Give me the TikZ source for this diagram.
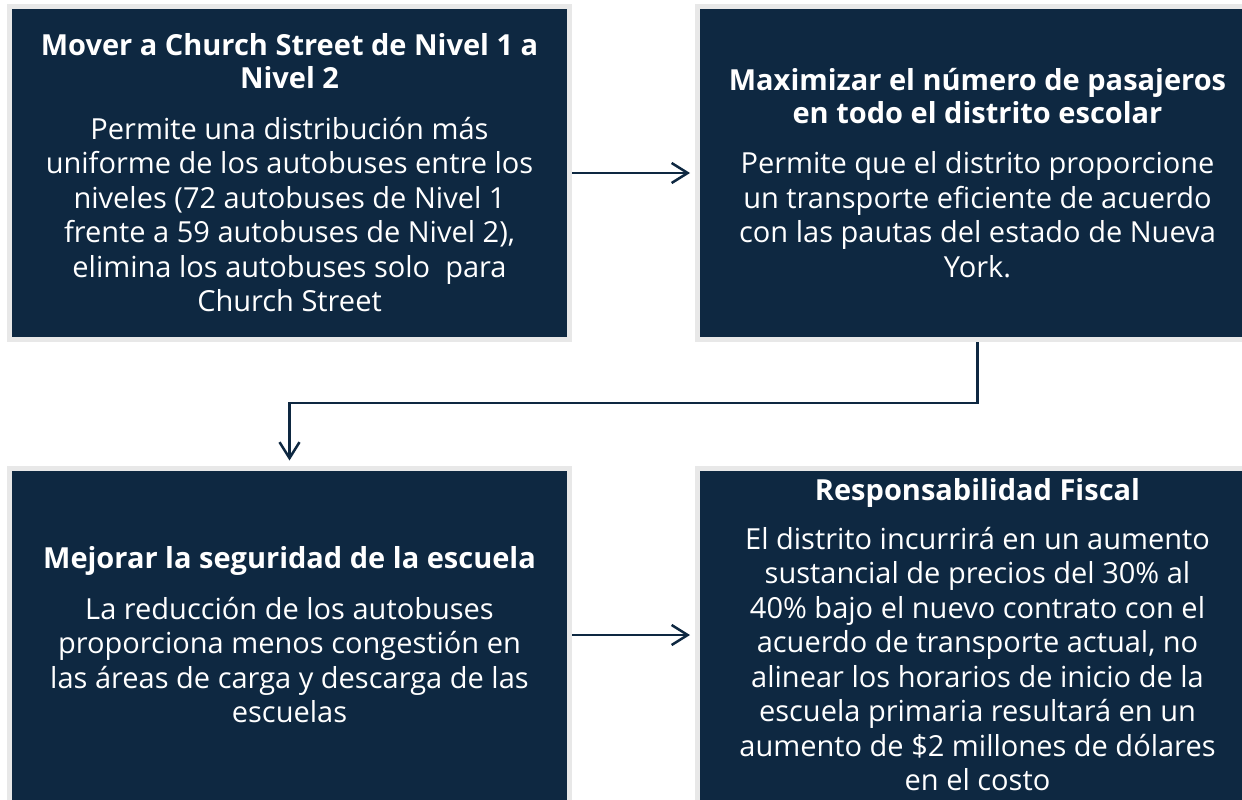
\documentclass[tikz,border=0pt]{standalone}
\usepackage{fontspec}
\setmainfont{Open Sans}
\usetikzlibrary{arrows.meta}
\definecolor{navy}{HTML}{0E2841}
\definecolor{rim}{HTML}{E8E8E8}
\tikzset{
  card/.style={rectangle, fill=navy, draw=rim, line width=5pt,
    minimum width=560pt, minimum height=333pt, inner sep=0pt,
    text=white, align=center,
    font=\fontsize{29}{34.5}\selectfont},
  link/.style={draw=navy, line width=2.5pt,
    -{Straight Barb[length=16pt,width=20pt]}, shorten >=5pt}
}
\begin{document}
\begin{tikzpicture}[x=1pt,y=-1pt]
\useasboundingbox (0,0) rectangle (1242,800);
\clip (0,0) rectangle (1242,800);
\node[card] (tl) at (289.5,173) {\textbf{Mover a Church Street de Nivel 1 a}\\[-1.5pt]
\textbf{Nivel 2}\\[16pt]
Permite una distribución más\\
uniforme de los autobuses entre los\\
niveles (72 autobuses de Nivel 1\\
frente a 59 autobuses de Nivel 2),\\
elimina los autobuses solo\ \ para\\
Church Street};
\node[card] (tr) at (977.5,173) {\textbf{Maximizar el número de pasajeros}\\[-1.5pt]
\textbf{en todo el distrito escolar}\\[16pt]
Permite que el distrito proporcione\\
un transporte eficiente de acuerdo\\
con las pautas del estado de Nueva\\
York.};
\node[card, minimum height=334pt] (bl) at (289.5,635) {\textbf{Mejorar la seguridad de la escuela}\\[16pt]
La reducción de los autobuses\\
proporciona menos congestión en\\
las áreas de carga y descarga de las\\
escuelas};
\node[card, minimum height=334pt] (br) at (977.5,635) {\textbf{Responsabilidad Fiscal}\\[14pt]
El distrito incurrirá en un aumento\\
sustancial de precios del 30\% al\\
40\% bajo el nuevo contrato con el\\
acuerdo de transporte actual, no\\
alinear los horarios de inicio de la\\
escuela primaria resultará en un\\
aumento de \$2 millones de dólares\\
en el costo};
\draw[link] (tl.east) -- (tr.west);
\draw[link] (bl.east) -- (br.west);
\draw[link] (tr.south) -- ++(0,61) -| (bl.north);
\end{tikzpicture}
\end{document}
